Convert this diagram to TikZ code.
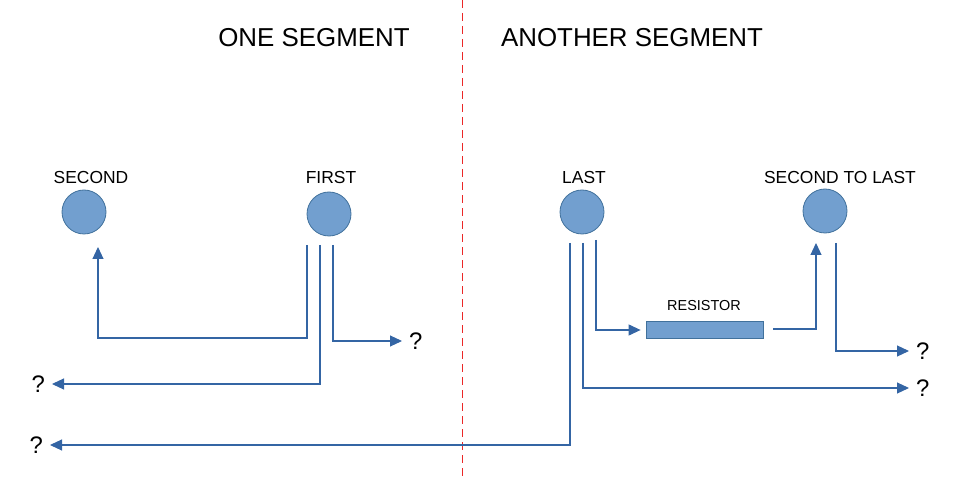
\documentclass[tikz,border=0pt]{standalone}
\usepackage{fontspec}
\setmainfont{Liberation Sans}
\usetikzlibrary{arrows.meta}

\definecolor{wireblue}{RGB}{52,101,164}
\definecolor{ballfill}{RGB}{114,159,207}
\definecolor{ballline}{RGB}{65,113,156}
\definecolor{cutred}{RGB}{235,40,40}

\tikzset{
	ball/.style={circle,draw=ballline,fill=ballfill,line width=0.8bp,minimum size=44bp,inner sep=0pt},
	resbox/.style={draw=ballline,fill=ballfill,line width=0.8bp,minimum width=117bp,minimum height=17bp,inner sep=0pt},
	lbl/.style={font=\fontsize{17.5}{20}\selectfont},
	reslbl/.style={font=\fontsize{14.5}{17}\selectfont},
	ttl/.style={font=\fontsize{26}{30}\selectfont},
	qmark/.style={font=\fontsize{24}{28}\selectfont,inner sep=0pt,outer sep=7bp},
	wire/.style={draw=wireblue,line width=1.1bp,-{Triangle[length=12bp,width=11bp]}},
	divider/.style={draw=cutred,line width=1bp,dash pattern=on 8bp off 5bp}
}

\begin{document}
\begin{tikzpicture}[x=1bp,y=-1bp]
	\useasboundingbox (0,0) rectangle (972,481);
	% headings and the cut between the segments
	\node[ttl] (onehdr) at (314,38) {ONE SEGMENT};
	\node[ttl] (anotherhdr) at (632,38) {ANOTHER SEGMENT};
	\coordinate (cuttop) at (462,0);
	\coordinate (cutbot) at (462,478);
	\draw[divider] (cuttop) -- (cutbot);
	% nodes
	\node[ball] (second) at (84,212) {};
	\node[ball] (first) at (329,214) {};
	\node[ball] (last) at (582,212) {};
	\node[ball] (stl) at (825,211) {};
	\node[lbl] (secondlbl) at (91,178) {SECOND};
	\node[lbl] (firstlbl) at (331,178) {FIRST};
	\node[lbl] (lastlbl) at (584,178) {LAST};
	\node[lbl] (stllbl) at (840,178) {SECOND TO LAST};
	\node[resbox] (res) at (704.5,330) {};
	\node[reslbl] (reslabel) at (704,306) {RESISTOR};
	% unknown ends
	\node[qmark,anchor=west] (q1) at (402,341) {?};
	\node[qmark,anchor=east] (q2) at (52,384) {?};
	\node[qmark,anchor=east] (q3) at (50,445) {?};
	\node[qmark,anchor=west] (q4) at (909,351) {?};
	\node[qmark,anchor=west] (q5) at (909,388) {?};
	% wire ends
	\coordinate (f1) at (307,245);
	\coordinate (f2) at (320,245);
	\coordinate (f3) at (333,245);
	\coordinate (s1) at (98,247);
	\coordinate (l1) at (570,243);
	\coordinate (l2) at (583,243);
	\coordinate (l3) at (596,240);
	\coordinate (r1) at (773,329);
	\coordinate (t1) at (816,243);
	\coordinate (t2) at (836,243);
	% wires
	\draw[wire] (f1) -- ++(0,93) -| (s1);
	\draw[wire] (f2) |- (q2.east);
	\draw[wire] (f3) |- (q1.west);
	\draw[wire] (l1) |- (q3.east);
	\draw[wire] (l2) |- (q5.west);
	\draw[wire,shorten >=5bp] (l3) |- (res.west);
	\draw[wire] (r1) -| (t1);
	\draw[wire] (t2) |- (q4.west);
\end{tikzpicture}
\end{document}
